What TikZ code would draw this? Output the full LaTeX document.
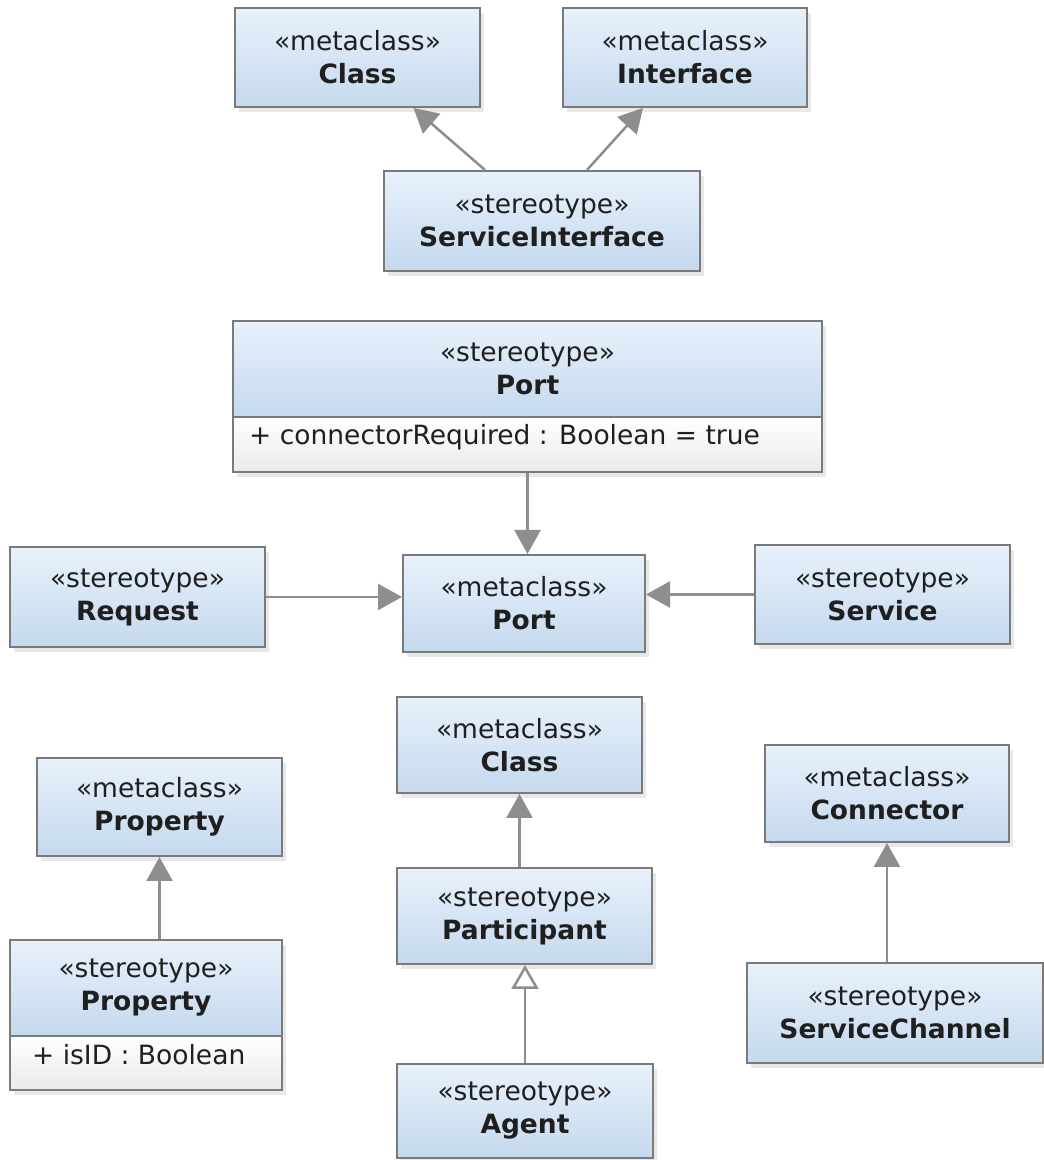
\documentclass[tikz,border=0pt]{standalone}
\usepackage{fontspec}
\setmainfont{DejaVu Sans}
\usetikzlibrary{arrows.meta,shadows}
\definecolor{boxtop}{HTML}{E8F1FB}
\definecolor{boxbot}{HTML}{C5D9EE}
\definecolor{boxline}{HTML}{7A7A7A}
\definecolor{linkgray}{HTML}{8E8E8E}
\definecolor{attrbot}{HTML}{EAEAEA}
\newcommand\boxfont{\fontsize{26.5}{33}\selectfont}
\tikzset{
  umlbox/.style={draw=boxline, line width=2pt, top color=boxtop, bottom color=boxbot,
    align=center, font=\boxfont, text=black!88, inner sep=0pt,
    drop shadow={shadow xshift=4pt, shadow yshift=-5pt, opacity=0.18}},
  attrbox/.style={umlbox, top color=white, bottom color=attrbot},
  attrtext/.style={anchor=west, font=\boxfont, text=black!88, inner sep=0pt},
  extends/.style={draw=linkgray, line width=2.5pt, -{Triangle[length=24pt,width=26pt]}},
  generalizes/.style={draw=linkgray, line width=2.5pt, -{Triangle[open,length=24pt,width=27pt,fill=white]}},
}
\begin{document}
\begin{tikzpicture}[x=1pt,y=1pt]
  \useasboundingbox (0,0) rectangle (1044,1160);
  % Service interface
  \node[umlbox, minimum width=245pt, minimum height=99pt] (clsTop) at (357.5,1102.5) {«metaclass»\\\textbf{Class}};
  \node[umlbox, minimum width=244pt, minimum height=99pt] (iface) at (685,1102.5) {«metaclass»\\\textbf{Interface}};
  \node[umlbox, minimum width=316pt, minimum height=100pt] (svcIface) at (542,939) {«stereotype»\\\textbf{ServiceInterface}};
  \draw[extends] ([xshift=-57pt]svcIface.north) -- ([xshift=56pt]clsTop.south);
  \draw[extends] ([xshift=45pt]svcIface.north) -- ([xshift=-42pt]iface.south);
  % Ports
  \node[umlbox, minimum width=589pt, minimum height=96pt] (portStereo) at (527.5,791) {«stereotype»\\\textbf{Port}};
  \node[attrbox, minimum width=589pt, minimum height=55pt] (portAttr) at (527.5,715.5) {};
  \node[attrtext] (portAttrTxt) at ([xshift=17pt,yshift=7pt]portAttr.west) {+ connectorRequired : Boolean = true};
  \node[umlbox, minimum width=242pt, minimum height=97pt] (portMeta) at (524,556.5) {«metaclass»\\\textbf{Port}};
  \node[umlbox, minimum width=255pt, minimum height=100pt] (request) at (137.5,563) {«stereotype»\\\textbf{Request}};
  \node[umlbox, minimum width=255pt, minimum height=99pt] (service) at (882.5,565.5) {«stereotype»\\\textbf{Service}};
  \draw[extends] (portAttr.south) -- (portAttr.south |- portMeta.north);
  \draw[extends] (request.east) -- (request.east -| portMeta.west);
  \draw[extends] (service.west) -- (service.west -| portMeta.east);
  % Participants
  \node[umlbox, minimum width=245pt, minimum height=96pt] (clsMid) at (519.5,415) {«metaclass»\\\textbf{Class}};
  \node[umlbox, minimum width=255pt, minimum height=96pt] (participant) at (524.5,244) {«stereotype»\\\textbf{Participant}};
  \node[umlbox, minimum width=256pt, minimum height=94pt] (agent) at (525,49) {«stereotype»\\\textbf{Agent}};
  \draw[extends] (clsMid.south |- participant.north) -- (clsMid.south);
  \draw[generalizes] (agent.north) -- (agent.north |- participant.south);
  % Properties
  \node[umlbox, minimum width=245pt, minimum height=98pt] (propMeta) at (159.5,353) {«metaclass»\\\textbf{Property}};
  \node[umlbox, minimum width=272pt, minimum height=96pt] (propStereo) at (146,172) {«stereotype»\\\textbf{Property}};
  \node[attrbox, minimum width=272pt, minimum height=54pt] (propAttr) at (146,97) {};
  \node[attrtext] (propAttrTxt) at ([xshift=23pt,yshift=8pt]propAttr.west) {+ isID : Boolean};
  \draw[extends] (propMeta.south |- propStereo.north) -- (propMeta.south);
  % Channels
  \node[umlbox, minimum width=244pt, minimum height=97pt] (connector) at (887,366.5) {«metaclass»\\\textbf{Connector}};
  \node[umlbox, minimum width=296pt, minimum height=100pt] (svcChannel) at (895,147) {«stereotype»\\\textbf{ServiceChannel}};
  \draw[extends] (connector.south |- svcChannel.north) -- (connector.south);
\end{tikzpicture}
\end{document}
